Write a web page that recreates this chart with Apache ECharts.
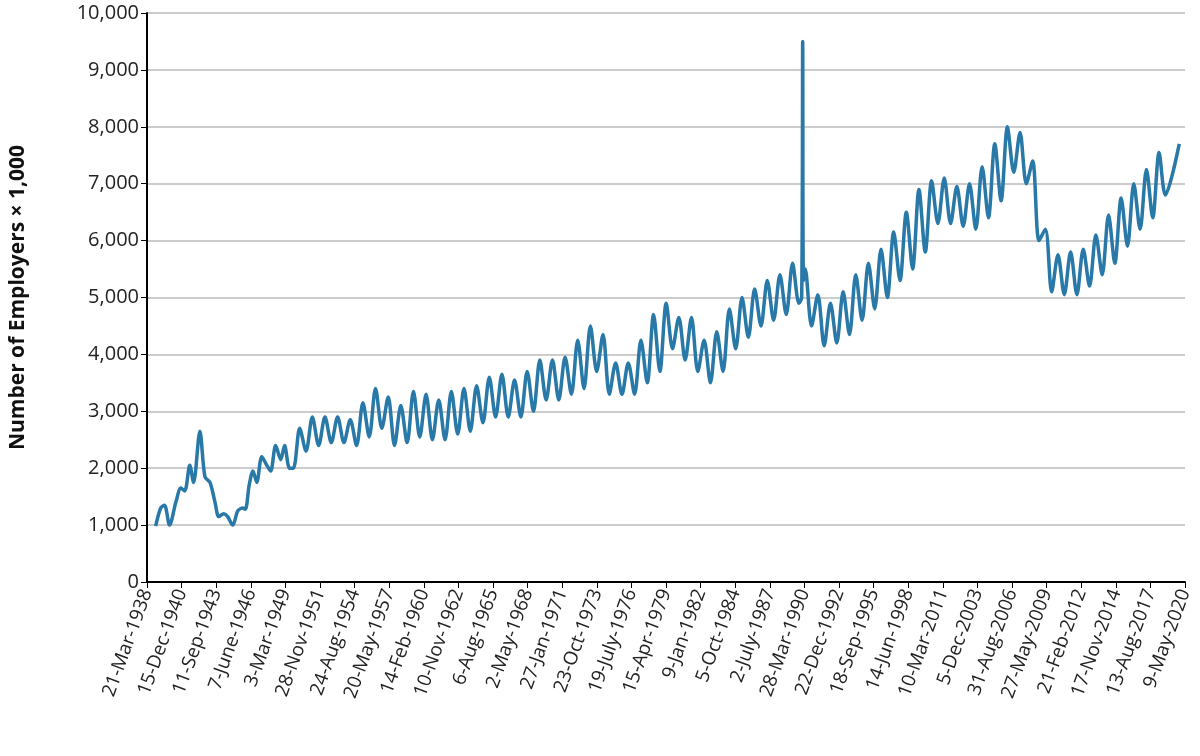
<!DOCTYPE html>
<html><head><meta charset="utf-8">
<script src="https://cdn.jsdelivr.net/npm/echarts@6/dist/echarts.min.js"></script>
<style>html,body{margin:0;padding:0;background:#fff}#c{width:1200px;height:756px}</style>
</head><body><div id="c"></div>
<script>
const tickLabels = ["21-Mar-1938","15-Dec-1940","11-Sep-1943","7-June-1946","3-Mar-1949","28-Nov-1951","24-Aug-1954","20-May-1957","14-Feb-1960","10-Nov-1962","6-Aug-1965","2-May-1968","27-Jan-1971","23-Oct-1973","19-July-1976","15-Apr-1979","9-Jan-1982","5-Oct-1984","2-July-1987","28-Mar-1990","22-Dec-1992","18-Sep-1995","14-Jun-1998","10-Mar-2011","5-Dec-2003","31-Aug-2006","27-May-2009","21-Feb-2012","17-Nov-2014","13-Aug-2017","9-May-2020"];
const earlyYears = [1938.9,1939.3,1939.6,1940.0,1940.5,1940.9,1941.2,1941.6,1941.9,1942.4,1942.8,1943.2,1943.6,1943.9,1944.3,1944.6,1945.0,1945.4,1945.8,1946.0,1946.3,1946.6,1946.9,1947.3,1947.7,1948.0,1948.4,1948.8,1949.1,1949.5,1949.8];
const earlyValues = [980,1300,1350,1000,1400,1650,1600,2050,1750,2650,1850,1750,1400,1150,1200,1150,1000,1250,1300,1280,1700,1950,1750,2200,2050,1950,2400,2150,2400,2000,2000];
const years = Array.from({length:70},(_,i)=>1950+i);
const peaks = [2700,2900,2900,2900,2850,3150,3400,3250,3100,3350,3300,3200,3350,3400,3450,3600,3650,3550,3700,3900,3900,3950,4250,4500,4350,3850,3850,4250,4700,4900,4650,4650,4250,4400,4800,5000,5150,5300,5400,5600,5500,5050,4900,5100,5400,5600,5850,6150,6500,6900,7050,7100,6950,7000,7300,7700,8000,7900,7400,6200,5750,5800,5850,6100,6450,6750,7000,7250,7550,7700];
const troughs = [2300,2400,2450,2450,2400,2550,2700,2400,2450,2550,2500,2500,2600,2650,2800,2900,2900,2900,3000,3200,3200,3300,3400,3700,3300,3300,3300,3500,3700,4100,3900,3700,3500,3700,4100,4300,4500,4600,4700,4900,4500,4150,4200,4350,4600,4800,5000,5300,5500,5800,6300,6300,6250,6200,6400,6700,7200,7000,6000,5100,5050,5050,5200,5400,5600,5900,6200,6400,6800,7100];
const spikeYears=[1990.02,1990.1,1990.16];
const spikeValues=[5000,9500,5300];
const start = Date.UTC(1938,2,21);
const dayOf = y => (Date.UTC(Math.floor(y),0,1) + (y-Math.floor(y))*365.25*864e5 - start)/864e5;
let pts = earlyYears.map((y,i)=>[dayOf(y),earlyValues[i]]);
years.forEach((y,i)=>{
  if(y===1990){ spikeYears.forEach((s,j)=>pts.push([dayOf(s),spikeValues[j]])); }
  pts.push([dayOf(y===2019?y+0.9:y+0.3),peaks[i]]);
  if(y!==2019) pts.push([dayOf(y+0.8),troughs[i]]);
});
const chart = echarts.init(document.getElementById('c'));
chart.setOption({
  animation:false,
  grid:{left:143,right:15,top:13,bottom:174},
  xAxis:{type:'value',min:0,max:30000,interval:1000,
    axisLine:{lineStyle:{color:'#000',width:2}},axisTick:{show:true,length:6,lineStyle:{color:'#000'}},
    splitLine:{show:false},
    axisLabel:{rotate:70,fontFamily:'Open Sans',fontSize:19,color:'#222',margin:8,
      formatter:v=>tickLabels[Math.round(v/1000)]||''}},
  yAxis:{type:'value',min:0,max:10000,interval:1000,
    name:'Number of Employers × 1,000',nameLocation:'middle',nameGap:118,
    nameTextStyle:{fontFamily:'Open Sans',fontSize:21,fontWeight:'bold',color:'#111'},
    axisLine:{show:true,lineStyle:{color:'#000',width:2}},axisTick:{show:true,length:6,lineStyle:{color:'#000'}},
    splitLine:{lineStyle:{color:'#bbb',width:1.5}},
    axisLabel:{fontFamily:'Open Sans',fontSize:20,color:'#222',formatter:v=>v.toLocaleString('en-US')}},
  series:[{type:'line',data:pts,smooth:0.3,showSymbol:false,lineStyle:{color:'#2878a8',width:3.5}}]
});
</script></body></html>
